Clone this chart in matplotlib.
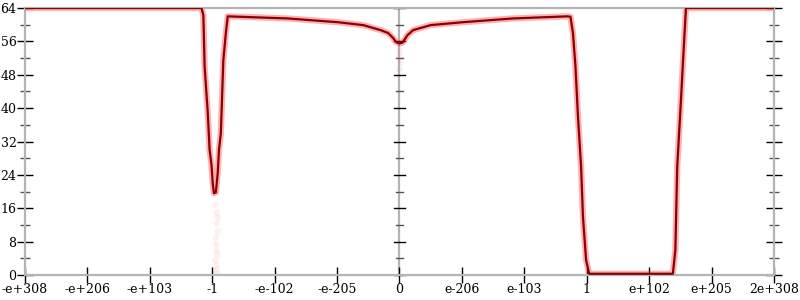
import matplotlib
matplotlib.use("Agg")
import matplotlib.pyplot as plt
from matplotlib.ticker import MultipleLocator

# x positions are in tick-index units (0 = -e+308 ... 12 = 2e+308)
tick_labels = ["-e+308", "-e+206", "-e+103", "-1", "-e-102", "-e-205", "0",
               "e-206", "e-103", "1", "e+102", "e+205", "2e+308"]

line_u = [0.00, 2.83, 2.86, 2.88, 2.93, 2.96, 2.99, 3.01, 3.03, 3.06, 3.09,
          3.11, 3.14, 3.18, 3.22, 3.25, 4.21, 5.01, 5.42, 5.70, 5.82, 5.90,
          5.95, 6.00, 6.05, 6.13, 6.22, 6.50, 7.02, 7.82, 8.69, 8.74, 8.78,
          8.82, 8.86, 8.91, 8.94, 8.99, 9.04, 10.38, 10.42, 10.45, 10.51,
          10.56, 10.59, 12.00]
line_bits = [64.0, 64.0, 62.3, 50.0, 39.0, 30.0, 26.4, 22.0, 19.6, 19.8, 24.4,
             30.0, 34.0, 51.5, 58.0, 62.0, 61.5, 60.6, 59.9, 58.7, 58.0, 56.8,
             55.8, 55.5, 55.7, 57.5, 58.7, 59.9, 60.6, 61.5, 62.0, 61.9, 58.0,
             50.0, 38.0, 26.0, 14.0, 3.6, 0.3, 0.3, 6.0, 26.0, 42.0, 56.0,
             64.0, 64.0]

# faint sample points below the curve near -1 and 0
streak_u = [3.05, 3.06, 3.07, 3.08, 3.05, 3.07, 3.06, 3.08, 3.05, 3.07, 3.06,
            3.08, 3.07, 5.99, 6.00, 6.01, 6.00]
streak_bits = [17.0, 15.0, 12.5, 10.5, 9.0, 7.5, 6.0, 5.0, 3.5, 2.5, 1.5, 14.0,
               0.5, 54.0, 52.5, 51.0, 49.5]

fig = plt.figure(figsize=(8, 3), dpi=100)
ax = fig.add_axes([0.031, 0.0833, 0.9365, 0.89])

ax.plot(line_u, line_bits, color="#ff2020", lw=4.5, alpha=0.35,
        solid_capstyle="round", zorder=2)
ax.scatter(streak_u, streak_bits, s=22, color="#ff4040", alpha=0.08,
           lw=0, zorder=2)
ax.plot(line_u, line_bits, color="#8b0000", lw=1.6, zorder=3)

ax.set_xlim(0, 12)
ax.set_ylim(0, 64)

for side in ["left", "right", "top", "bottom"]:
    ax.spines[side].set_color("#b4b4b4")
    ax.spines[side].set_linewidth(1.6)
ax.axvline(6, color="#b4b4b4", lw=1.6, zorder=1)

ax.set_xticks(range(13))
ax.set_xticklabels(tick_labels)
ax.yaxis.set_major_locator(MultipleLocator(8))
ax.yaxis.set_minor_locator(MultipleLocator(4))
ax.tick_params(axis="both", which="major", direction="inout", length=11,
               width=1, color="black", labelsize=9, pad=0.5)
ax.tick_params(axis="y", which="minor", direction="inout", length=7,
               width=1, color="#555555")
ax.tick_params(axis="y", which="both", right=True, labelright=False)
for lab in ax.get_xticklabels() + ax.get_yticklabels():
    lab.set_family("DejaVu Serif")

# tick marks on the centre axis
for v in range(0, 65, 8):
    ax.plot([5.91, 6.09], [v, v], color="black", lw=1, zorder=1, clip_on=False)
for v in range(4, 64, 8):
    ax.plot([5.94, 6.06], [v, v], color="#555555", lw=1, zorder=1)

fig.savefig("out.png", dpi=100)
